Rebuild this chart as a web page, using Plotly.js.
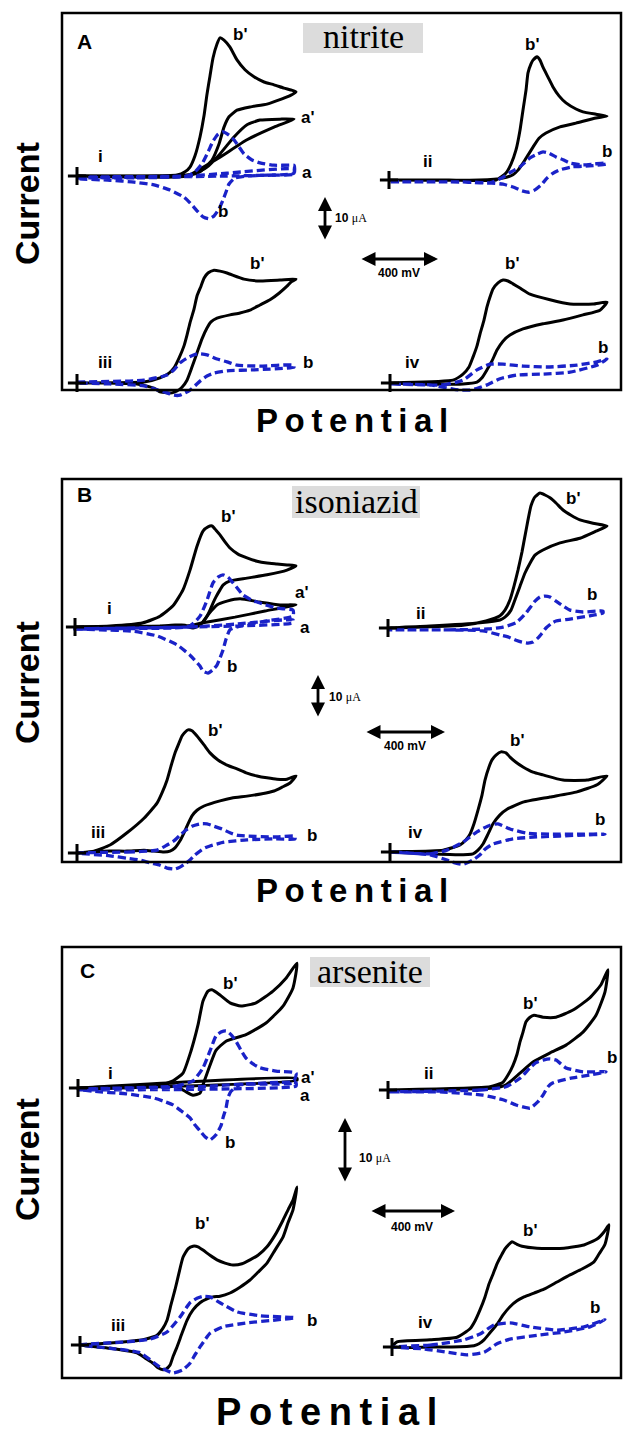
<!DOCTYPE html>
<html><head><meta charset="utf-8">
<script src="https://cdn.plot.ly/plotly-3.0.1.min.js"></script>
<style>html,body{margin:0;padding:0;background:#fff}#chart{width:624px;height:1437px}</style>
</head><body><div id="chart"></div>
<script>
// ---- Data: potential (mV, relative to scan start) and current (uA, relative to start) ----
// Panel A (nitrite)
const A1_bp_E = [0,300,500,540,565,590,615,635,650,665,680,700,715,735,765,800,840,885,935,985,1035,1070,1095,1070,1025,950,865,800,760,735,710,675,615,550,450,250,0];
const A1_bp_I = [0,0,0.2,0.9,1.9,4.3,8.3,12.8,17.4,21.3,25.1,28.1,29.4,28.9,27.4,24.7,22.6,21.1,20.0,19.4,18.7,18.3,17.9,17.2,16.4,15.3,14.7,14.0,12.6,10.4,6.8,3.4,0.9,0.2,0,0,0];
const A1_ap_E = [0,550,615,715,850,985,1085,1015,915,850,785,715,650,585,500,0];
const A1_ap_I = [0,0,1.5,4.0,7.7,10.4,12.1,12.1,11.9,10.9,8.3,4.7,1.9,0.4,0,0];
const A1_b_E = [0,300,500,550,590,625,655,680,705,730,760,785,810,835,875,915,985,1065,1085,1085,965,850,790,760,745,730,710,685,660,630,600,565,535,465,385,285,165,15,0];
const A1_b_I = [-0.4,-0.4,-0.2,0,0.9,2.6,5.1,7.4,8.9,9.4,8.7,7.7,6.2,4.7,3.4,2.8,2.3,2.3,2.3,0.4,0.2,0,-0.4,-1.7,-3.4,-5.1,-7.0,-8.5,-9.1,-8.7,-7.4,-5.7,-4.5,-3.0,-1.9,-1.3,-0.9,-0.6,-0.4];
const A1_a_E = [0,550,750,1085,1085,750,0];
const A1_a_I = [-0.2,0,0.6,1.5,0.6,0,-0.4];

const A2_bp_E = [0,300,535,585,610,635,655,670,685,695,710,720,740,755,770,795,820,850,885,935,970,1035,1090,1035,935,855,785,750,720,695,670,645,620,570,450,0];
const A2_bp_I = [0,0,0,1.5,3.4,6.4,10.6,14.9,19.1,22.8,24.7,25.5,26.2,25.5,24.0,21.9,19.8,17.9,16.4,15.1,14.5,14.0,13.6,13.2,12.1,11.3,10.0,8.9,7.0,5.3,3.6,2.1,1.1,0.4,0,0];
const A2_b_E = [0,370,505,570,610,655,705,740,770,800,835,870,905,970,1025,1085,1085,1000,915,850,815,790,760,730,700,665,620,570,500,300,0];
const A2_b_I = [-0.4,-0.4,-0.6,0.6,1.7,2.8,4.7,5.5,6.0,5.7,4.9,4.3,3.6,3.2,3.4,3.6,3.4,3.0,2.8,2.1,1.3,0.4,-1.1,-2.1,-2.6,-2.3,-1.5,-0.9,-0.6,-0.4,-0.4];

const A3_bp_E = [0,335,415,460,485,510,535,550,565,585,600,620,635,655,685,715,750,835,915,1015,1095,1070,1050,1010,965,915,865,815,765,700,670,650,625,600,575,550,525,500,475,450,415,385,300,115,0];
const A3_bp_I = [0,0.2,1.1,2.1,3.2,5.3,7.9,10.2,12.8,15.7,18.5,20.6,22.3,23.4,24.0,23.8,23.4,22.1,21.7,21.9,22.1,21.5,20.6,19.1,17.7,16.6,15.5,14.9,14.5,13.8,13.0,11.7,9.4,6.4,3.4,0.6,-0.9,-1.7,-2.1,-2.1,-1.9,-1.1,-0.2,0,0];
const A3_b_E = [0,335,450,485,515,550,585,615,650,700,750,800,915,1085,1085,885,750,685,650,615,590,565,540,515,485,450,390,335,165,0];
const A3_b_I = [0.2,0.6,1.7,2.8,4.3,5.3,6.0,6.2,6.0,5.1,4.5,3.8,3.6,3.8,3.4,2.8,2.6,2.1,1.5,0.4,-0.6,-1.5,-2.1,-2.6,-2.6,-2.1,-1.3,-0.6,-0.2,0];

const A4_bp_E = [0,315,365,395,415,435,450,470,485,500,515,540,565,590,615,650,700,800,900,1015,1085,1050,965,865,765,665,600,565,535,510,485,460,435,365,115,0];
const A4_bp_I = [0,0.6,1.9,3.4,5.5,7.9,10.4,13.4,16.2,18.3,20.0,21.3,21.9,21.7,21.1,20.2,18.9,17.7,16.8,16.8,17.2,15.5,14.5,13.4,12.6,11.5,10.2,8.9,7.0,4.7,2.8,1.1,0.2,-0.2,-0.2,0];
const A4_b_E = [0,265,365,435,500,565,665,785,935,1035,1085,1035,900,765,635,550,485,440,400,350,315,200,0];
const A4_b_I = [-0.2,-0.4,0.6,2.8,4.0,4.0,3.6,3.4,3.8,4.5,5.1,3.8,2.3,1.9,1.7,0.9,-0.4,-1.1,-1.5,-1.5,-1.3,-0.4,-0.2];

// Panel B (isoniazid)
const B1_bp_E = [0,175,340,425,490,540,575,610,640,665,685,705,725,750,775,815,860,910,960,1010,1060,1105,1060,960,860,775,740,725,705,690,675,660,640,625,605,590,570,550,500,425,0];
const B1_bp_I = [0,0.2,0.9,2.3,4.5,7.9,12.1,17.2,20.4,21.3,21.5,20.6,19.6,18.1,16.8,15.5,14.7,14.0,13.6,13.4,13.2,13.0,12.1,11.1,10.4,9.8,8.9,7.9,6.4,5.1,3.6,2.3,1.1,0.4,0,-0.2,0,0.4,0.4,0.2,0];
const B1_ap_E = [0,560,640,800,950,1105,1025,925,825,760,710,685,660,625,560,0];
const B1_ap_I = [0,0.2,0.9,2.1,3.4,4.7,4.7,5.3,6.0,5.5,4.7,3.6,2.3,0.4,0.2,0];
const B1_b_E = [0,500,575,625,660,690,715,740,765,790,815,840,885,925,1010,1090,1090,960,840,775,755,740,725,710,690,665,640,625,575,510,410,290,125,0];
const B1_b_I = [-0.4,-0.2,0.2,2.3,5.7,9.4,10.6,11.1,10.6,9.4,8.1,6.8,5.7,5.1,4.0,3.6,2.3,1.3,0.4,-0.6,-2.6,-4.9,-6.6,-8.1,-9.1,-9.8,-9.4,-8.3,-6.0,-3.8,-1.9,-0.9,-0.6,-0.4];
const B1_a_E = [0,575,800,1090,1090,800,0];
const B1_a_I = [-0.4,0,0.6,1.5,0.9,0.2,-0.4];

const B2_bp_E = [0,375,490,560,585,610,630,650,670,685,700,715,735,760,785,810,840,875,915,960,1025,1095,1040,960,860,775,735,710,685,660,635,615,585,560,460,210,0];
const B2_bp_I = [0,0.6,1.5,2.6,3.8,6.0,8.9,12.3,16.2,19.6,23.0,26.0,27.9,28.7,28.3,27.7,26.6,25.1,24.0,23.0,22.3,21.7,20.6,19.1,18.1,16.6,15.5,13.8,11.7,8.9,6.0,3.8,2.3,1.7,1.1,0.4,0];
const B2_b_E = [0,300,500,575,640,690,735,760,785,810,840,875,910,975,1075,1075,1010,910,840,815,790,770,750,725,700,670,640,600,560,475,290,0];
const B2_b_I = [-0.4,-0.4,-0.2,0.2,1.1,3.2,5.7,6.6,6.8,6.6,5.7,4.7,3.8,3.4,3.6,3.2,2.6,1.9,1.5,0.9,0,-1.1,-2.1,-3.0,-3.2,-3.0,-2.6,-1.9,-1.5,-0.6,-0.4,-0.4];

const B3_bp_E = [0,85,165,250,335,400,425,450,470,490,510,525,540,555,575,600,635,665,705,750,800,850,900,950,1000,1050,1095,1065,1025,985,925,850,775,715,635,600,575,555,535,515,490,465,435,385,335,250,165,0];
const B3_bp_I = [0,0.4,1.7,4.3,7.4,10.6,12.8,15.5,18.5,21.3,23.4,24.9,25.7,26.2,26.0,24.9,23.0,21.3,19.8,18.7,17.9,17.0,16.4,16.0,15.7,15.7,16.4,14.9,14.0,13.2,12.6,12.1,11.7,11.1,10.0,9.1,7.9,6.2,4.3,2.6,1.1,0.4,0.2,0.4,0.6,0.4,0.4,0];
const B3_b_E = [0,250,400,450,485,515,545,575,615,650,685,725,765,800,850,985,1090,1090,985,850,735,665,640,615,590,565,540,515,490,450,415,365,315,250,165,0];
const B3_b_I = [0,0.2,0.6,1.7,2.6,3.8,4.9,5.7,6.2,6.2,5.7,5.1,4.3,3.8,3.6,3.4,3.6,3.0,3.0,2.8,2.3,1.5,1.1,0.4,-0.4,-1.5,-2.3,-3.0,-3.4,-3.2,-2.6,-2.1,-1.5,-1.1,-0.6,0];

const B4_bp_E = [0,265,350,380,400,420,440,460,475,495,510,530,555,580,600,630,665,715,765,865,985,1085,1035,935,800,665,585,550,515,490,465,440,415,335,115,0];
const B4_bp_I = [0,0.4,1.5,2.6,3.8,6.0,8.9,12.1,15.3,18.1,19.6,20.6,21.3,21.1,20.2,19.1,18.1,17.0,16.4,15.3,15.3,16.2,14.3,12.8,11.7,10.6,9.1,7.9,6.0,3.8,1.7,0.4,-0.4,-0.6,-0.2,0];
const B4_b_E = [0,200,285,365,435,500,540,600,685,800,965,1075,965,735,615,515,475,450,415,365,325,285,200,0];
const B4_b_I = [0,-0.4,0.4,2.1,4.3,5.7,6.0,4.9,4.0,3.8,3.8,3.8,3.6,3.2,2.8,1.7,0.6,-0.6,-1.7,-2.6,-2.3,-1.7,-0.6,0];

// Panel C (arsenite)
const C1_bp_E = [0,410,475,525,565,600,625,650,670,710,760,815,890,975,1040,1095,1075,1025,940,840,740,690,660,625,610,575,535,485,0];
const C1_bp_I = [0,0.5,1.1,2.3,5.7,9.7,13.4,14.9,15.1,14.3,13.1,12.6,13.1,14.9,16.9,19.2,15.4,12.6,10.0,8.2,7.2,5.8,3.5,0.5,-0.8,-1.1,-0.5,0.3,0];
const C1_ap_E = [0,1095,1095,0];
const C1_ap_I = [0,1.5,1.2,-0.2];
const C1_b_E = [0,490,575,625,660,690,715,740,765,790,815,840,875,910,990,1090,1075,940,810,765,750,740,725,715,690,660,635,610,585,560,515,475,425,375,240,75,0];
const C1_b_I = [-0.2,0.3,1.1,3.1,5.7,8.0,8.6,8.8,8.2,7.2,5.8,4.6,3.7,3.1,2.6,2.3,0.8,0.6,0.5,-0.5,-1.5,-3.1,-4.6,-5.8,-7.2,-8.0,-7.5,-6.6,-5.7,-4.6,-3.5,-2.6,-2.0,-1.5,-0.9,-0.5,-0.2];
const C1_a_E = [0,600,1090,1090,600,0];
const C1_a_I = [-0.2,0.2,0.8,0.3,-0.2,-0.3];

const C2_bp_E = [0,510,575,600,625,645,660,675,690,710,730,775,840,925,1010,1065,1100,1085,1040,975,890,810,725,660,590,525,0];
const C2_bp_I = [0,0.5,1.2,2.3,3.8,5.5,7.4,8.9,10.5,11.2,11.5,11.2,11.2,12.3,14.2,16.2,18.5,15.1,11.5,8.9,6.9,5.7,4.3,2.6,0.8,0.3,0];
const C2_b_E = [0,460,590,660,710,740,775,810,840,865,890,975,1090,1010,910,825,800,775,750,710,675,640,575,475,260,0];
const C2_b_I = [-0.3,0,0.5,1.8,3.4,4.2,4.6,4.8,4.6,4.0,3.4,2.8,2.8,2.3,1.8,1.1,0.5,-0.8,-1.8,-2.8,-2.6,-2.3,-1.5,-0.8,-0.3,-0.3];

const C3_bp_E = [0,150,315,385,415,435,455,475,495,515,540,565,590,615,650,685,725,765,810,850,890,935,975,1015,1045,1065,1085,1065,1040,1015,975,935,890,850,800,750,700,665,635,600,565,535,510,485,465,450,430,415,390,365,325,285,150,0];
const C3_bp_I = [0,0.3,0.8,1.5,2.6,3.8,6.2,8.5,11.1,13.5,14.8,15.2,15.1,14.6,13.8,13.1,12.6,12.3,12.5,13.1,13.8,15.1,16.9,19.2,21.1,22.3,24.3,20.8,18.8,16.6,14.6,12.6,11.2,10.0,8.9,8.0,7.5,7.4,7.1,6.5,5.4,3.8,1.8,-0.3,-1.8,-3.1,-3.7,-3.8,-3.5,-2.8,-2.0,-1.2,-0.5,0];
const C3_b_E = [0,235,350,435,500,550,585,615,650,700,785,900,1075,965,835,715,650,625,600,575,550,515,465,400,300,150,0];
const C3_b_I = [0,0.5,0.9,2.0,4.3,6.5,7.2,7.5,7.4,6.5,5.1,4.5,4.2,3.8,3.4,2.8,1.8,0.8,-0.3,-1.5,-2.8,-3.8,-4.3,-3.4,-1.2,-0.5,0];

const C4_bp_E = [0,25,190,325,390,415,440,465,485,505,525,545,565,585,600,625,650,725,860,960,1025,1060,1085,1065,1035,1010,950,890,825,760,710,660,625,590,555,525,490,460,435,410,300,190,0];
const C4_bp_I = [0,0.8,1.1,1.5,2.8,4.0,5.7,7.7,9.7,11.2,12.8,14.0,15.1,15.8,16.2,15.8,15.5,15.2,15.2,15.7,16.6,17.7,18.8,15.8,14.3,13.1,12.0,11.1,10.0,8.9,8.3,7.7,7.1,6.2,4.9,3.5,2.2,1.1,0.5,0.2,0,0,0];
const C4_b_E = [0,190,360,440,510,590,690,825,960,1065,990,860,725,590,525,460,375,275,160,0];
const C4_b_I = [0,0.3,1.1,2.0,3.4,3.7,3.1,2.6,3.1,4.2,3.1,2.3,1.8,1.2,0.5,-0.8,-1.2,-0.8,-0.3,0];

const PANEL_TITLES = ['nitrite', 'isoniazid', 'arsenite'];
const PANEL_LETTERS = ['A', 'B', 'C'];

// ---- Layout (pixel geometry) ----
const W = 624, H = 1437;
const px = x => x / W;
const py = y => 1 - y / H;
const MV_PER_PX = 5;
const ORIGIN_PX = [[77,176],[389,180],[77,383],[390,383],[75,627],[388,628],[77,853],[390,852],[78,1088],[388,1090],[80,1345],[392,1347]];
const PX_PER_UA = [4.7,4.7,4.7,4.7,4.7,4.7,4.7,4.7,6.5,6.5,6.5,6.5];
const BLUE = '#1a22c8';

const CURVES = [
  [[A1_bp_E,A1_bp_I,'k'],[A1_ap_E,A1_ap_I,'k'],[A1_b_E,A1_b_I,'b'],[A1_a_E,A1_a_I,'b']],
  [[A2_bp_E,A2_bp_I,'k'],[A2_b_E,A2_b_I,'b']],
  [[A3_bp_E,A3_bp_I,'k'],[A3_b_E,A3_b_I,'b']],
  [[A4_bp_E,A4_bp_I,'k'],[A4_b_E,A4_b_I,'b']],
  [[B1_bp_E,B1_bp_I,'k'],[B1_ap_E,B1_ap_I,'k'],[B1_b_E,B1_b_I,'b'],[B1_a_E,B1_a_I,'b']],
  [[B2_bp_E,B2_bp_I,'k'],[B2_b_E,B2_b_I,'b']],
  [[B3_bp_E,B3_bp_I,'k'],[B3_b_E,B3_b_I,'b']],
  [[B4_bp_E,B4_bp_I,'k'],[B4_b_E,B4_b_I,'b']],
  [[C1_bp_E,C1_bp_I,'k'],[C1_ap_E,C1_ap_I,'k'],[C1_b_E,C1_b_I,'b'],[C1_a_E,C1_a_I,'b']],
  [[C2_bp_E,C2_bp_I,'k'],[C2_b_E,C2_b_I,'b']],
  [[C3_bp_E,C3_bp_I,'k'],[C3_b_E,C3_b_I,'b']],
  [[C4_bp_E,C4_bp_I,'k'],[C4_b_E,C4_b_I,'b']]
];

const traces = [];
const layout = {
  width: W, height: H, margin: {l:0, r:0, t:0, b:0},
  paper_bgcolor: '#fff', plot_bgcolor: 'rgba(0,0,0,0)', showlegend: false,
  shapes: [], annotations: []
};

CURVES.forEach((list, k) => {
  const s = k === 0 ? '' : String(k + 1);
  const [ox, oy] = ORIGIN_PX[k];
  layout['xaxis' + s] = {domain: [px(ox - 10), px(ox + 230)], range: [-10 * MV_PER_PX, 230 * MV_PER_PX],
    visible: false, fixedrange: true, anchor: 'y' + s};
  layout['yaxis' + s] = {domain: [py(oy + 60), py(oy - 170)], range: [-60 / PX_PER_UA[k], 170 / PX_PER_UA[k]],
    visible: false, fixedrange: true, anchor: 'x' + s};
  const order = list.filter(c => c[2] === 'k').concat(list.filter(c => c[2] === 'b'));
  order.forEach(([E, I, st]) => {
    traces.push({type: 'scatter', mode: 'lines', x: E, y: I, xaxis: 'x' + s, yaxis: 'y' + s, hoverinfo: 'skip',
      line: st === 'k' ? {color: '#000', width: 3, shape: 'spline', smoothing: 0.5}
                       : {color: BLUE, width: 3.3, dash: '8px,4px', shape: 'spline', smoothing: 0.5}});
  });
  traces.push({type: 'scatter', mode: 'markers', x: [0], y: [0], xaxis: 'x' + s, yaxis: 'y' + s, hoverinfo: 'skip',
    marker: {symbol: 'cross-thin', size: 13, color: '#000', line: {width: 3, color: '#000'}}});
});

// panel frames and title backgrounds
const BOX_PX = [[62,13,621,390],[62,479,621,862],[62,947,621,1378]];
BOX_PX.forEach(([x0,y0,x1,y1]) => layout.shapes.push({type:'rect', xref:'paper', yref:'paper',
  x0:px(x0), x1:px(x1), y0:py(y1), y1:py(y0), line:{color:'#000', width:2.5}}));
const TITLE_BG_PX = [[303,23,423,53],[292,486,420,518],[310,957,430,987]];
TITLE_BG_PX.forEach(([x0,y0,x1,y1]) => layout.shapes.push({type:'rect', xref:'paper', yref:'paper', layer:'below',
  x0:px(x0), x1:px(x1), y0:py(y1), y1:py(y0), fillcolor:'#dcdcdc', line:{width:0}}));

const SANS = 'Liberation Sans, Arial, sans-serif';
const SERIF = 'Liberation Serif, Times New Roman, serif';
function T(text, x, y, size, extra) {
  return Object.assign({text: text, x: px(x), y: py(y), xref: 'paper', yref: 'paper', showarrow: false,
    xanchor: 'center', yanchor: 'middle', font: {family: SANS, size: size, color: '#000'}}, extra || {});
}
const ann = layout.annotations;
[[84,41],[85,494],[87,970]].forEach(([x,y],i) => ann.push(T('<b>' + PANEL_LETTERS[i] + '</b>', x, y, 21)));
[[363,37],[356,501],[370,971]].forEach(([x,y],i) => ann.push(T(PANEL_TITLES[i], x, y, 34, {font:{family:SERIF,size:34,color:'#000'}})));
[204,683,1160].forEach(y => ann.push(T('<b>Current</b>', 27, y, 34, {textangle: -90})));
const POT = 'P\u2009o\u2009t\u2009e\u2009n\u2009t\u2009i\u2009a\u2009l';
ann.push(T('<b>' + POT + '</b>', 352, 420, 33));
ann.push(T('<b>' + POT + '</b>', 352, 890, 33));
ann.push(T('<b>' + POT + '</b>', 326, 1412, 38));

// curve labels
const LABELS = [
  ['i',100,157],["b'",240,35],["a'",308,117],['a',307,172],['b',223,212],
  ['ii',427,162],["b'",532,45],['b',607,152],
  ['iii',105,362],["b'",257,263],['b',308,363],
  ['iv',412,362],["b'",512,263],['b',603,347],
  ['i',109,609],["b'",228,516],["a'",302,593],['a',305,627],['b',232,666],
  ['ii',420,613],["b'",573,498],['b',592,594],
  ['iii',98,833],["b'",215,730],['b',312,835],
  ['iv',415,833],["b'",517,740],['b',600,820],
  ['i',110,1073],["b'",230,983],["a'",308,1077],['a',305,1095],['b',230,1142],
  ['ii',428,1073],["b'",530,1003],['b',612,1057],
  ['iii',118,1325],["b'",202,1223],['b',312,1320],
  ['iv',425,1322],["b'",530,1230],['b',595,1307]
];
LABELS.forEach(([t,x,y]) => ann.push(T('<b>' + t + '</b>', x, y, 17)));

// scale bars
function arrow(x, y, axp, ayp) {
  return {x: px(x), y: py(y), xref: 'paper', yref: 'paper', text: '', showarrow: true, ax: axp, ay: ayp,
    arrowside: 'end+start', arrowhead: 2, startarrowhead: 2, arrowsize: 1, startarrowsize: 1, arrowwidth: 2.8, arrowcolor: '#000'};
}
const UA_TXT = '<b>10</b> <span style="font-family:Liberation Serif">\u03bcA</span>';
const SCALES = [
  {v:[325,197,44], vt:[333,218], h:[438,259,-78], ht:[399,273]},
  {v:[318,675,43], vt:[327,697], h:[445,732,-80], ht:[405,746]},
  {v:[345,1118,65], vt:[357,1158], h:[455,1211,-85], ht:[412,1227]}
];
SCALES.forEach(sc => {
  ann.push(arrow(sc.v[0], sc.v[1], 0, sc.v[2]));
  ann.push(T(UA_TXT, sc.vt[0], sc.vt[1], 12, {xanchor: 'left'}));
  ann.push(arrow(sc.h[0], sc.h[1], sc.h[2], 0));
  ann.push(T('<b>400 mV</b>', sc.ht[0], sc.ht[1], 12));
});

Plotly.newPlot('chart', traces, layout, {staticPlot: true, displayModeBar: false});
</script></body></html>
